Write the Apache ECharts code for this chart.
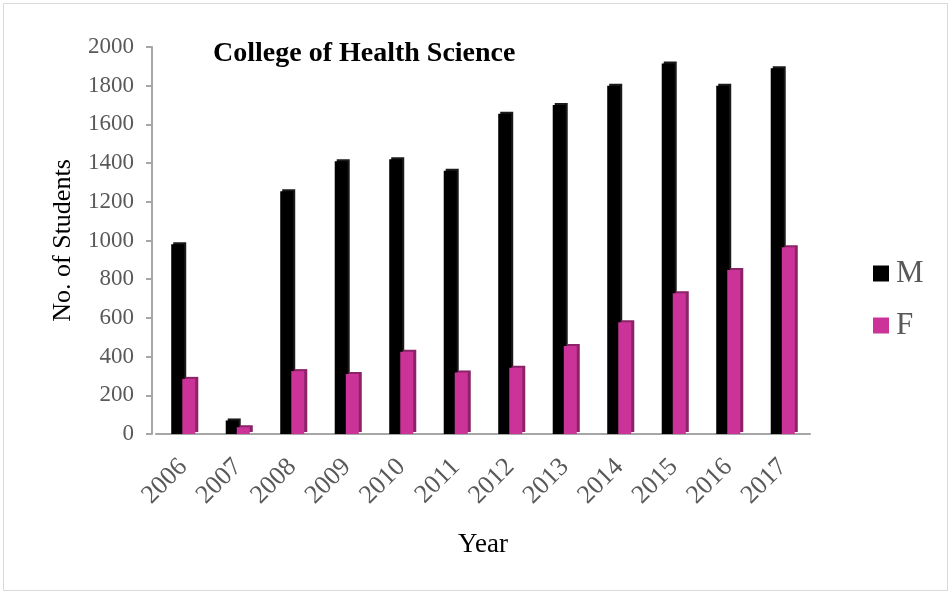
<!DOCTYPE html>
<html>
<head>
<meta charset="utf-8">
<script src="https://cdn.jsdelivr.net/npm/echarts@6/dist/echarts.min.js"></script>
<style>
  html, body { margin: 0; padding: 0; background: #fff; }
  #chart { width: 951px; height: 594px; }
</style>
</head>
<body>
<div id="chart"></div>
<script>
// Enrolment by year, College of Health Science
const years = ['2006','2007','2008','2009','2010','2011','2012','2013','2014','2015','2016','2017'];
const male = [980, 70, 1255, 1410, 1420, 1360, 1655, 1700, 1800, 1915, 1800, 1890];
const female = [285, 35, 325, 310, 425, 318, 343, 455, 578, 728, 848, 965];
const yTicks = [0, 200, 400, 600, 800, 1000, 1200, 1400, 1600, 1800, 2000];

const serif = '"Liberation Serif", "DejaVu Serif", serif';
const chart = echarts.init(document.getElementById('chart'));

chart.setOption({
  backgroundColor: '#fff',
  animation: false,
  graphic: [{
    type: 'rect',
    shape: { x: 3.5, y: 3.5, width: 944, height: 587 },
    style: { fill: 'none', stroke: '#d9d9d9', lineWidth: 1 }
  }],
  title: {
    text: 'College of Health Science',
    left: 208, top: 35,
    textStyle: { fontFamily: serif, fontWeight: 'bold', fontSize: 28, color: '#000' }
  },
  legend: {
    orient: 'vertical',
    left: 868, top: 253,
    itemWidth: 16, itemHeight: 16, itemGap: 21,
    icon: 'rect',
    textStyle: { fontFamily: serif, fontSize: 31, color: '#595959', padding: [0, 0, 0, 2] },
    data: ['M', 'F']
  },
  grid: { left: 156, right: 141, top: 47, bottom: 160 },
  xAxis: {
    type: 'category',
    data: years,
    name: 'Year',
    nameLocation: 'middle',
    nameGap: 97,
    nameTextStyle: { fontFamily: serif, fontSize: 27, color: '#000' },
    axisLine: { lineStyle: { color: '#a6a6a6', width: 2 } },
    axisTick: { show: false },
    axisLabel: { rotate: 45, fontFamily: serif, fontSize: 26, color: '#595959', margin: 29 }
  },
  yAxis: {
    type: 'value',
    min: 0, max: 2000, interval: 200,
    offset: 4,
    name: 'No. of Students',
    nameLocation: 'middle',
    nameGap: 76,
    nameTextStyle: { fontFamily: serif, fontSize: 26, color: '#000' },
    axisLine: { show: true, lineStyle: { color: '#a6a6a6', width: 2 } },
    axisTick: { show: true, inside: false, length: 6, lineStyle: { color: '#a6a6a6', width: 2 } },
    splitLine: { show: false },
    axisLabel: {
      fontFamily: serif, fontSize: 23, color: '#595959', margin: 18,
      formatter: v => (yTicks.includes(v) ? String(v) : '')
    }
  },
  series: [
    {
      name: 'M', type: 'bar', data: male,
      barWidth: 13, barGap: '-15%',
      itemStyle: { color: '#000', shadowColor: '#1a1a1a', shadowOffsetX: 2, shadowOffsetY: -2, shadowBlur: 0 }
    },
    {
      name: 'F', type: 'bar', data: female,
      barWidth: 13,
      itemStyle: { color: '#cc3399', shadowColor: '#8c2268', shadowOffsetX: 3, shadowOffsetY: -2, shadowBlur: 0 }
    }
  ]
});
</script>
</body>
</html>
